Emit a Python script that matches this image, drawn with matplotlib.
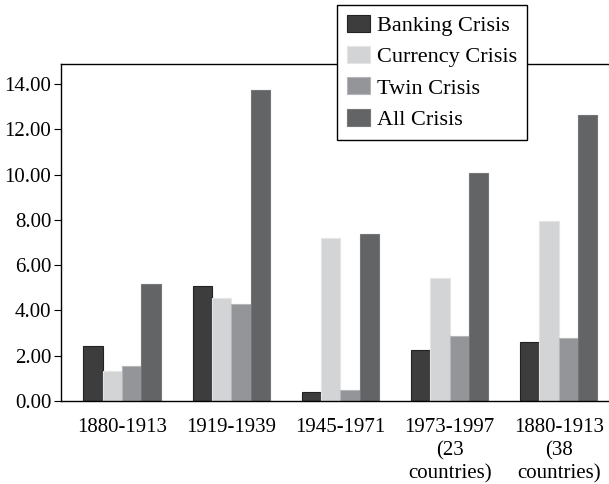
import numpy as np
import matplotlib.pyplot as plt

periods = ["1880-1913", "1919-1939", "1945-1971", "1973-1997\n(23\ncountries)", "1880-1913\n(38\ncountries)"]
banking = [2.43, 5.08, 0.40, 2.24, 2.62]
currency = [1.34, 4.55, 7.19, 5.42, 7.94]
twin = [1.53, 4.27, 0.50, 2.86, 2.80]
all_crisis = [5.17, 13.72, 7.36, 10.06, 12.62]

series = [("Banking Crisis", banking, "#3d3d3d", "#222222"),
          ("Currency Crisis", currency, "#d3d4d6", "#e4e5e6"),
          ("Twin Crisis", twin, "#939598", "#b5b6b8"),
          ("All Crisis", all_crisis, "#636466", "#757678")]

plt.rcParams['font.family'] = ['Liberation Serif', 'DejaVu Serif']

fig = plt.figure(figsize=(6.09, 4.84), dpi=100)
ax = fig.add_axes([0.1, 0.1715, 0.9, 0.6955])

x = np.arange(len(periods))
w = 0.177
for i, (name, vals, col, edge) in enumerate(series):
    ax.bar(x + (i - 1.5) * w, vals, w, color=col, edgecolor=edge, linewidth=0.8, label=name)

ax.set_xlim(-0.56, 4.46)
ax.set_ylim(0, 14.87)
ax.set_yticks(np.arange(0, 15, 2))
ax.set_yticklabels(["%.2f" % v for v in np.arange(0, 15, 2)], fontsize=15)
ax.set_xticks(x)
ax.set_xticklabels(periods, fontsize=15, linespacing=1.3)
ax.tick_params(axis='x', length=0, pad=12)
ax.tick_params(axis='y', length=5, width=0.8, direction='out', pad=2)
ax.spines['right'].set_visible(False)
for s in ['top', 'left', 'bottom']:
    ax.spines[s].set_linewidth(1.0)

leg = ax.legend(loc='upper right', bbox_to_anchor=(527 / 609, 1 - 5 / 484),
                bbox_transform=fig.transFigure, fontsize=16, frameon=True,
                fancybox=False, edgecolor='black', framealpha=1,
                handlelength=1.05, handleheight=0.8, handletextpad=0.3,
                labelspacing=0.45, borderpad=0.45, borderaxespad=0)
leg.get_frame().set_linewidth(1.0)

fig.savefig("out.png", dpi=100)
